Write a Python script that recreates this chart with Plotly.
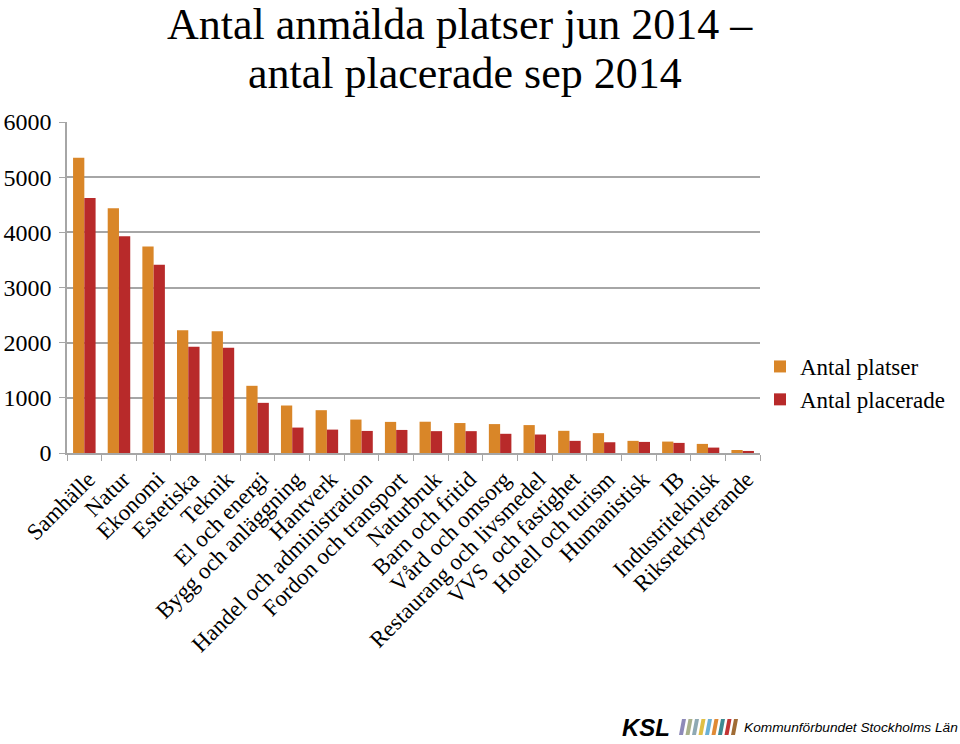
import plotly.graph_objects as go

categories = ["Samhälle", "Natur", "Ekonomi", "Estetiska", "Teknik", "El och energi",
              "Bygg och anläggning", "Hantverk", "Handel och administration",
              "Fordon och transport", "Naturbruk", "Barn och fritid", "Vård och omsorg",
              "Restaurang och livsmedel", "VVS\u00a0 och fastighet", "Hotell och turism",
              "Humanistisk", "IB", "Industriteknisk", "Riksrekryterande"]
antal_platser = [5352, 4436, 3745, 2224, 2206, 1218, 861, 776, 606, 564,
                 567, 543, 524, 506, 402, 360, 220, 207, 165, 55]
antal_placerade = [4624, 3927, 3412, 1927, 1909, 909, 461, 424, 400, 418,
                   396, 396, 348, 335, 220, 195, 201, 183, 98, 37]
y_ticks = [0, 1000, 2000, 3000, 4000, 5000, 6000]

ORANGE = "#D98628"
RED = "#B82A2A"
SERIF = "Liberation Serif, Times New Roman, serif"
SANS = "Liberation Sans, Arial, sans-serif"

W, H = 960, 744
# plot area in pixels: x 67..760, y 122..453
PX0, PX1, PY0, PY1 = 67, 760, 122, 453
PW, PH = PX1 - PX0, PY1 - PY0


def px(x):
    return (x - PX0) / PW


def py(y):
    return (PY1 - y) / PH


fig = go.Figure()
fig.add_trace(go.Bar(name="Antal platser", x=categories, y=antal_platser,
                     marker=dict(color=ORANGE, line=dict(width=0))))
fig.add_trace(go.Bar(name="Antal placerade", x=categories, y=antal_placerade,
                     marker=dict(color=RED, line=dict(width=0))))

fig.update_layout(
    width=W, height=H,
    margin=dict(l=PX0, r=W - PX1, t=PY0, b=H - PY1, autoexpand=False),
    paper_bgcolor="white", plot_bgcolor="white",
    barmode="group", bargap=0.35, bargroupgap=0,
    font=dict(family=SERIF, color="black"),
    legend=dict(x=px(760), y=py(345), xanchor="left", yanchor="top",
                font=dict(family=SERIF, size=23, color="black"),
                itemwidth=30, tracegroupgap=0, bgcolor="rgba(0,0,0,0)"),
    showlegend=True,
)

fig.update_yaxes(range=[0, 6000], tickvals=y_ticks, showgrid=True,
                 gridcolor="#A6A6A6", gridwidth=1.5, showline=True,
                 linecolor="#A6A6A6", linewidth=1.5, ticks="outside",
                 ticklen=6, tickcolor="#A6A6A6", zeroline=False,
                 tickfont=dict(family=SERIF, size=24, color="black"),
                 ticklabelstandoff=3)
fig.update_xaxes(tickangle=-45, showline=True, linecolor="#A6A6A6",
                 linewidth=1.5, ticks="outside", ticklen=6, tickcolor="#A6A6A6",
                 tickson="boundaries", showgrid=False,
                 tickfont=dict(family=SERIF, size=23, color="black"),
                 ticklabelshift=4, ticklabelstandoff=2)

# title, two lines
fig.add_annotation(text="Antal anmälda platser jun 2014 –",
                   xref="paper", yref="paper", x=px(460), y=py(24),
                   xanchor="center", yanchor="middle", showarrow=False, borderpad=0,
                   font=dict(family=SERIF, size=44, color="black"))
fig.add_annotation(text="antal placerade sep 2014",
                   xref="paper", yref="paper", x=px(465), y=py(73),
                   xanchor="center", yanchor="middle", showarrow=False, borderpad=0,
                   font=dict(family=SERIF, size=44, color="black"))

# logo
fig.add_annotation(text="<b><i>KSL</i></b>", xref="paper", yref="paper",
                   x=px(620), y=py(727), xanchor="left", yanchor="middle",
                   showarrow=False, font=dict(family=SANS, size=24, color="black"))
fig.add_annotation(text="<i>Kommunförbundet Stockholms Län</i>", xref="paper", yref="paper",
                   x=px(742), y=py(727), xanchor="left", yanchor="middle",
                   showarrow=False, font=dict(family=SANS, size=13.7, color="black"))
stripe_colors = ["#8E8AB8", "#A9B18A", "#8FA9B3", "#E0BF45", "#6BB1D6", "#E08A35", "#3E8A92", "#C23434", "#A06C35"]
for i, c in enumerate(stripe_colors):
    x0 = 679 + i * 6.5
    fig.add_shape(type="path", xref="paper", yref="paper",
                  path="M {a},{b} L {c},{b} L {d},{e} L {f},{e} Z".format(
                      a=px(x0), b=py(735), c=px(x0 + 4), d=px(x0 + 7),
                      e=py(719), f=px(x0 + 3)),
                  fillcolor=c, line=dict(width=0))

# remove the page's default 8px body margin so the figure sits at the window's corner
fig.write_html("out.html", config={"displayModeBar": False},
               post_script="document.body.style.margin='0';")
